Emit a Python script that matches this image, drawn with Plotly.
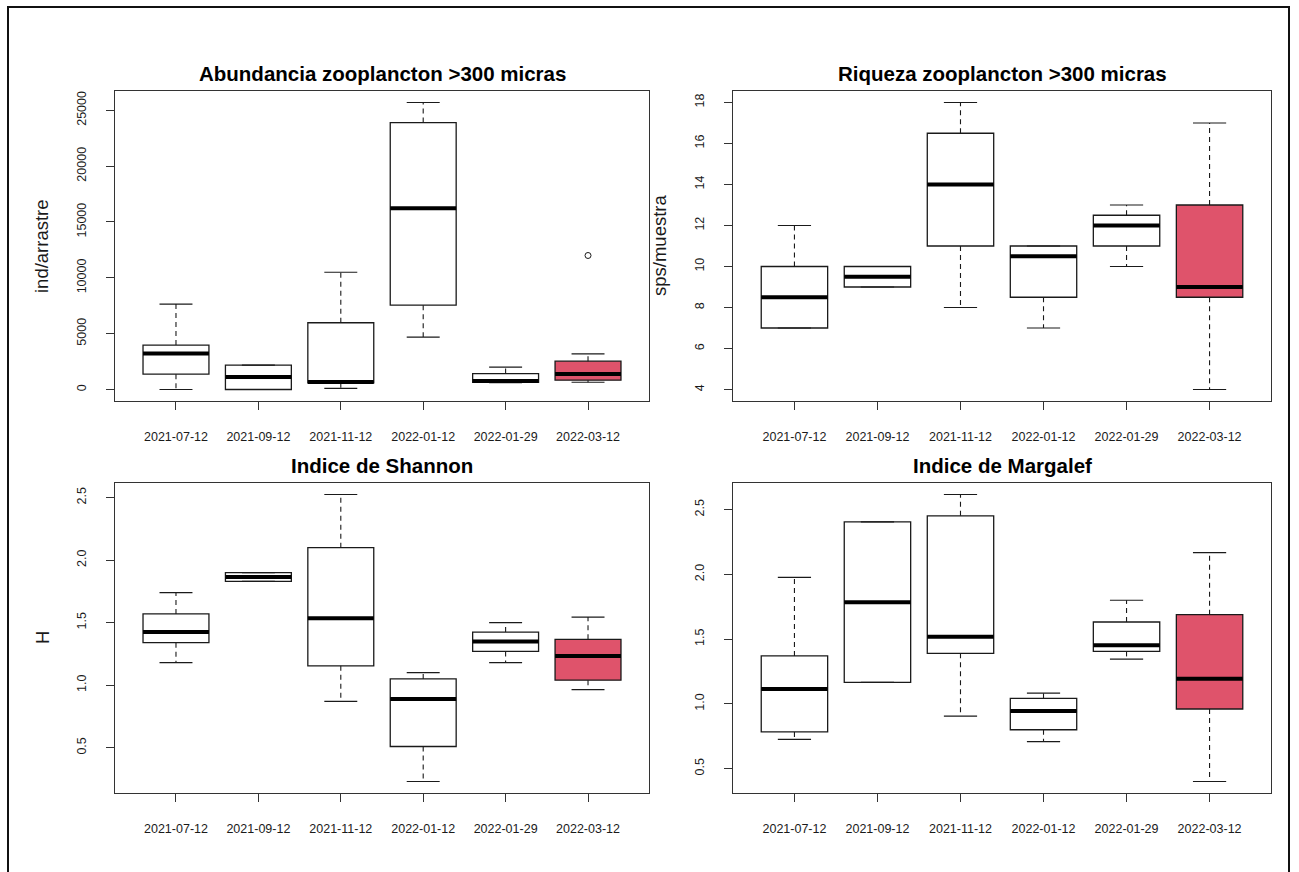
import plotly.graph_objects as go

# Sampling dates (x categories)
dates = ["2021-07-12", "2021-09-12", "2021-11-12", "2022-01-12", "2022-01-29", "2022-03-12"]

# Abundancia zooplancton >300 micras (ind/arrastre): five-number summaries per date
abund_lower = [0, 0, 100, 4700, 620, 650]
abund_q1 = [1370, 0, 600, 7550, 650, 840]
abund_med = [3230, 1130, 680, 16230, 760, 1380]
abund_q3 = [3980, 2180, 5980, 23900, 1430, 2540]
abund_upper = [7650, 2180, 10500, 25700, 2000, 3200]
abund_out_x = [6]
abund_out_y = [12000]

# Riqueza zooplancton >300 micras (sps/muestra)
riq_lower = [7, 9, 8, 7, 10, 4]
riq_q1 = [7, 9, 11, 8.5, 11, 8.5]
riq_med = [8.5, 9.5, 14, 10.5, 12, 9]
riq_q3 = [10, 10, 16.5, 11, 12.5, 13]
riq_upper = [12, 10, 18, 11, 13, 17]

# Indice de Shannon (H)
shan_lower = [1.18, 1.83, 0.87, 0.23, 1.18, 0.965]
shan_q1 = [1.34, 1.83, 1.155, 0.51, 1.27, 1.04]
shan_med = [1.425, 1.865, 1.535, 0.89, 1.35, 1.233]
shan_q3 = [1.57, 1.90, 2.10, 1.05, 1.425, 1.367]
shan_upper = [1.74, 1.90, 2.525, 1.10, 1.50, 1.545]

# Indice de Margalef
marg_lower = [0.725, 1.165, 0.905, 0.708, 1.345, 0.40]
marg_q1 = [0.783, 1.165, 1.39, 0.80, 1.405, 0.96]
marg_med = [1.115, 1.785, 1.518, 0.945, 1.453, 1.193]
marg_q3 = [1.37, 2.405, 2.452, 1.042, 1.632, 1.689]
marg_upper = [1.977, 2.405, 2.617, 1.083, 1.80, 2.168]

titles = ["Abundancia zooplancton >300 micras", "Riqueza zooplancton >300 micras",
          "Indice de Shannon", "Indice de Margalef"]
ylabels = ["ind/arrastre", "sps/muestra", "H", ""]
highlight = "#DF536B"
ink = "#1a1a1a"
font_family = "Liberation Sans, Arial, sans-serif"

W, H = 1299, 872
# Panel frames in pixels: (left, right, top, bottom)
frames = [(115, 649, 91, 401), (733, 1271, 91, 401),
          (115, 649, 483, 793), (733, 1271, 483, 793)]

panels = [
    (abund_lower, abund_q1, abund_med, abund_q3, abund_upper),
    (riq_lower, riq_q1, riq_med, riq_q3, riq_upper),
    (shan_lower, shan_q1, shan_med, shan_q3, shan_upper),
    (marg_lower, marg_q1, marg_med, marg_q3, marg_upper),
]
yticks = [
    ([0, 5000, 10000, 15000, 20000, 25000], "d"),
    ([4, 6, 8, 10, 12, 14, 16, 18], "d"),
    ([0.5, 1.0, 1.5, 2.0, 2.5], ".1f"),
    ([0.5, 1.0, 1.5, 2.0, 2.5], ".1f"),
]

fig = go.Figure()
layout = dict(
    width=W, height=H, margin=dict(l=0, r=0, t=0, b=0),
    paper_bgcolor="white", plot_bgcolor="white", showlegend=False,
    font=dict(family=font_family, color=ink),
)
annotations = []
xs = list(range(1, len(dates) + 1))

for p, (lo, q1, md, q3, up) in enumerate(panels):
    n = p + 1
    xa = "x" if n == 1 else f"x{n}"
    ya = "y" if n == 1 else f"y{n}"
    left, right, top, bottom = frames[p]
    xdom = [left / W, right / W]
    ydom = [1 - bottom / H, 1 - top / H]

    vals = lo + up + (abund_out_y if p == 0 else [])
    vmin, vmax = min(vals), max(vals)
    pad = 0.04 * (vmax - vmin)

    for i, x in enumerate(xs):
        fill = highlight if i == len(xs) - 1 else "white"
        # box body
        fig.add_trace(go.Box(
            x=[x], q1=[q1[i]], median=[md[i]], q3=[q3[i]],
            lowerfence=[q1[i]], upperfence=[q3[i]],
            width=0.8, whiskerwidth=0, fillcolor=fill,
            line=dict(color=ink, width=1.3), boxpoints=False,
            xaxis=xa, yaxis=ya, hoverinfo="skip",
        ))
        # dashed whiskers
        for a, b in ((q3[i], up[i]), (q1[i], lo[i])):
            if a != b:
                fig.add_trace(go.Scatter(
                    x=[x, x], y=[a, b], mode="lines",
                    line=dict(color=ink, width=1.1, dash="5px,4px"),
                    xaxis=xa, yaxis=ya, hoverinfo="skip",
                ))
        # whisker caps
        for v in (up[i], lo[i]):
            fig.add_trace(go.Scatter(
                x=[x - 0.2, x + 0.2], y=[v, v], mode="lines",
                line=dict(color=ink, width=1.2),
                xaxis=xa, yaxis=ya, hoverinfo="skip",
            ))
        # thick median
        fig.add_trace(go.Scatter(
            x=[x - 0.4, x + 0.4], y=[md[i], md[i]], mode="lines",
            line=dict(color="black", width=4),
            xaxis=xa, yaxis=ya, hoverinfo="skip",
        ))

    if p == 0:
        fig.add_trace(go.Scatter(
            x=abund_out_x, y=abund_out_y, mode="markers",
            marker=dict(symbol="circle-open", size=6, color=ink, line=dict(width=1)),
            xaxis=xa, yaxis=ya, hoverinfo="skip",
        ))

    tv, fmt = yticks[p]
    axis_common = dict(showline=True, mirror=True, linecolor="#333", linewidth=1.3,
                       ticks="outside", ticklen=8, tickcolor="#333", tickwidth=1.2,
                       showgrid=False, zeroline=False, automargin=False,
                       tickfont=dict(family=font_family, size=12.5, color=ink))
    layout["xaxis" if n == 1 else f"xaxis{n}"] = dict(
        domain=xdom, anchor=ya, range=[0.26, len(dates) + 0.74],
        tickvals=xs, ticktext=dates, ticklabelstandoff=16, **axis_common)
    layout["yaxis" if n == 1 else f"yaxis{n}"] = dict(
        domain=ydom, anchor=xa, range=[vmin - pad, vmax + pad],
        tickvals=tv, tickformat=fmt, tickangle=-90, ticklabelstandoff=15,
        **axis_common)

    # panel title
    annotations.append(dict(
        text=f"<b>{titles[p]}</b>", xref="paper", yref="paper",
        x=(left + right) / 2 / W, y=1 - (top - 18) / H,
        xanchor="center", yanchor="middle", showarrow=False,
        font=dict(family=font_family, size=20.5, color="black"),
    ))
    # y-axis label
    if ylabels[p]:
        annotations.append(dict(
            text=ylabels[p], xref="paper", yref="paper",
            x=(left - 73) / W, y=1 - (top + bottom) / 2 / H,
            xanchor="center", yanchor="middle", showarrow=False, textangle=-90,
            font=dict(family=font_family, size=18.5, color=ink),
        ))

layout["annotations"] = annotations
# outer border of the figure
layout["shapes"] = [dict(
    type="rect", xref="paper", yref="paper",
    x0=8 / W, x1=1289 / W, y0=-0.05, y1=1 - 7 / H,
    line=dict(color="#111", width=2), fillcolor="rgba(0,0,0,0)", layer="above",
)]
fig.update_layout(**layout)
fig.write_html("out.html")
